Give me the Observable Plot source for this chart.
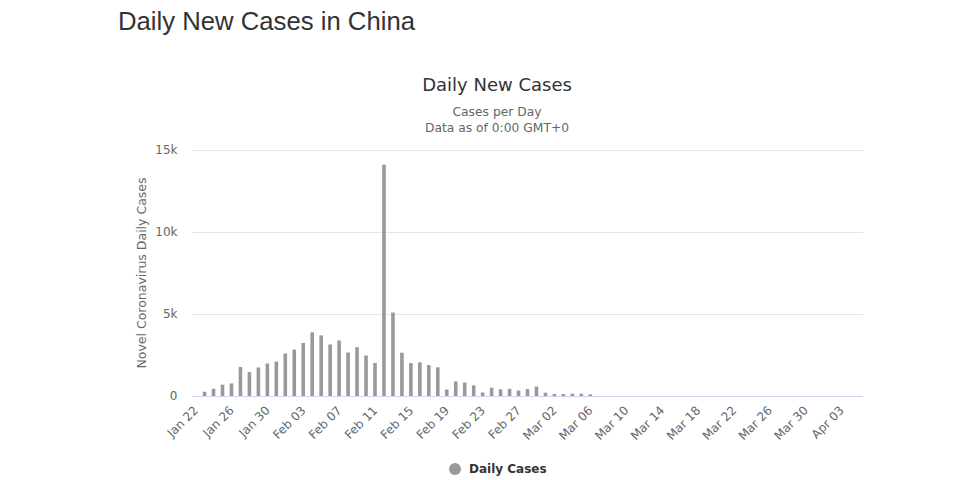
<!DOCTYPE html>
<html>
<head>
<meta charset="utf-8">
<script src="https://cdn.jsdelivr.net/npm/d3@7"></script>
<script src="https://cdn.jsdelivr.net/npm/@observablehq/plot@0.6"></script>
<style>
  html, body { margin: 0; padding: 0; background: #fff; }
  #wrap { position: relative; width: 960px; height: 480px; overflow: hidden; background: #fff; }
  #wrap svg { position: absolute; left: 0; top: 0; }
  .t { position: absolute; white-space: nowrap; }
  #pageTitle { left: 118px; top: 7px; font-family: "Liberation Sans", Arial, sans-serif; font-size: 25.7px; color: #333; }
  #chartTitle { left: 0; width: 994px; text-align: center; top: 74px; font-family: "DejaVu Sans", sans-serif; font-size: 18px; color: #333; }
  #sub1, #sub2 { left: 0; width: 994px; text-align: center; font-family: "DejaVu Sans", sans-serif; font-size: 12.3px; color: #666; }
  #sub1 { top: 105px; }
  #sub2 { top: 121px; }
  #ylab { left: 141px; top: 273px; transform: translate(-50%, -50%) rotate(-90deg); font-family: "DejaVu Sans", sans-serif; font-size: 12.5px; color: #666; }
  #legend { left: 449px; top: 462px; font-family: "DejaVu Sans", sans-serif; font-size: 12px; font-weight: bold; color: #333; display: flex; align-items: center; }
  #legend span.dot { display: inline-block; width: 12px; height: 12px; border-radius: 50%; background: #999; margin-right: 8px; }
</style>
</head>
<body>
<div id="wrap">
  <div class="t" id="pageTitle">Daily New Cases in China</div>
  <div class="t" id="chartTitle">Daily New Cases</div>
  <div class="t" id="sub1">Cases per Day</div>
  <div class="t" id="sub2">Data as of 0:00 GMT+0</div>
  <div class="t" id="ylab">Novel Coronavirus Daily Cases</div>
  <div class="t" id="legend"><span class="dot"></span>Daily Cases</div>
</div>
<script>
const dates = [
  "Jan 22","Jan 23","Jan 24","Jan 25","Jan 26","Jan 27","Jan 28","Jan 29","Jan 30","Jan 31",
  "Feb 01","Feb 02","Feb 03","Feb 04","Feb 05","Feb 06","Feb 07","Feb 08","Feb 09","Feb 10",
  "Feb 11","Feb 12","Feb 13","Feb 14","Feb 15","Feb 16","Feb 17","Feb 18","Feb 19","Feb 20",
  "Feb 21","Feb 22","Feb 23","Feb 24","Feb 25","Feb 26","Feb 27","Feb 28","Feb 29",
  "Mar 01","Mar 02","Mar 03","Mar 04","Mar 05","Mar 06","Mar 07","Mar 08","Mar 09","Mar 10",
  "Mar 11","Mar 12","Mar 13","Mar 14","Mar 15","Mar 16","Mar 17","Mar 18","Mar 19","Mar 20",
  "Mar 21","Mar 22","Mar 23","Mar 24","Mar 25","Mar 26","Mar 27","Mar 28","Mar 29","Mar 30",
  "Mar 31","Apr 01","Apr 02","Apr 03","Apr 04","Apr 05"
];
// Daily cases from Jan 22 to Mar 06 (later days show no visible bar)
const dailyCases = [
  0, 259, 444, 688, 769, 1771, 1459, 1737, 1981, 2099,
  2589, 2825, 3235, 3884, 3694, 3143, 3385, 2652, 2973, 2467,
  2015, 14108, 5090, 2641, 2008, 2048, 1888, 1749, 391, 889,
  823, 648, 214, 508, 406, 433, 327, 427, 573,
  202, 125, 119, 139, 143, 99
];
const xTickLabels = ["Jan 22","Jan 26","Jan 30","Feb 03","Feb 07","Feb 11","Feb 15","Feb 19","Feb 23","Feb 27",
  "Mar 02","Mar 06","Mar 10","Mar 14","Mar 18","Mar 22","Mar 26","Mar 30","Apr 03"];
const yTicks = [0, 5000, 10000, 15000];
const yTickLabels = ["0", "5k", "10k", "15k"];

const rows = dailyCases.map((v, i) => ({date: dates[i], cases: v}));

const chart = Plot.plot({
  width: 960,
  height: 480,
  marginLeft: 192,
  marginRight: 97,
  marginTop: 150,
  marginBottom: 84,
  style: {fontFamily: "DejaVu Sans, sans-serif", fontSize: "12px", color: "#666", background: "transparent"},
  x: {type: "band", domain: dates, paddingInner: 0.6, paddingOuter: 0.2, label: null,
      ticks: xTickLabels, tickSize: 0, tickPadding: 12, tickRotate: -45},
  y: {domain: [0, 15000], ticks: yTicks, tickSize: 0, tickPadding: 15, label: null,
      tickFormat: d => yTickLabels[yTicks.indexOf(d)]},
  marks: [
    Plot.gridY(yTicks, {stroke: "#e6e6e6", strokeOpacity: 1}),
    Plot.barY(rows, {x: "date", y: "cases", fill: "#999999"}),
    Plot.ruleY([0], {stroke: "#ccd6eb", strokeWidth: 1})
  ]
});
document.getElementById("wrap").appendChild(chart);
</script>
</body>
</html>
